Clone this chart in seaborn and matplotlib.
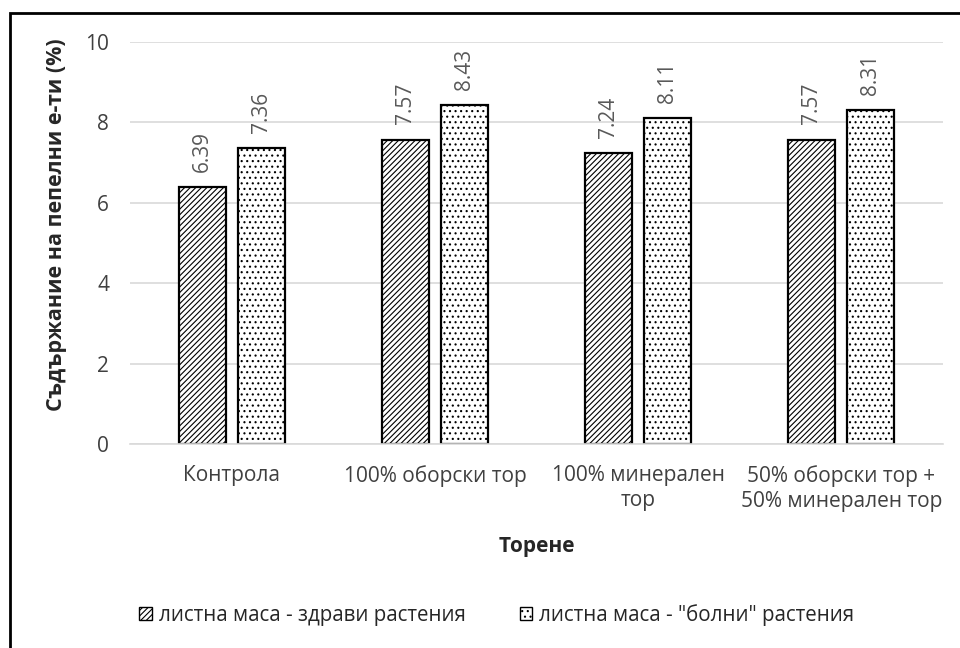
import numpy as np
import pandas as pd
import matplotlib
matplotlib.use("Agg")
import matplotlib.pyplot as plt
import seaborn as sns
from matplotlib.patches import Rectangle, Patch

# data
categories = ["Контрола", "100% оборски тор", "100% минерален\nтор",
              "50% оборски тор +\n50% минерален тор"]
series = ["листна маса - здрави растения", 'листна маса - "болни" растения']
healthy = [6.39, 7.57, 7.24, 7.57]
sick = [7.36, 8.43, 8.11, 8.31]

df = pd.DataFrame({
    "cat": categories * 2,
    "series": [series[0]] * 4 + [series[1]] * 4,
    "val": healthy + sick,
})

sns.set_theme(style="white")
plt.rcParams["font.family"] = ["Open Sans", "DejaVu Sans"]
plt.rcParams["hatch.linewidth"] = 0.8

fig = plt.figure(figsize=(9.6, 6.48), dpi=100)
# plot area: x 130..943 px, y 42..444 px
ax = fig.add_axes([130 / 960, 1 - 444 / 648, 813 / 960, 402 / 648])

sns.barplot(data=df, x="cat", y="val", hue="series", order=categories,
            hue_order=series, palette=["white", "white"], width=0.58,
            gap=0.2, edgecolor="black", linewidth=1.6, ax=ax, legend=False)

hatches = ["//////", "..."]
for cont, h in zip(ax.containers, hatches):
    for bar in cont:
        bar.set_hatch(h)
    ax.bar_label(cont, fmt="%.2f", padding=11, rotation=90,
                 color="#595959", fontsize=15)

ax.set_ylim(0, 10)
ax.set_yticks([0, 2, 4, 6, 8, 10])
ax.yaxis.grid(True, color="#d9d9d9", linewidth=1.2)
ax.set_axisbelow(True)
for s in ["top", "right", "left"]:
    ax.spines[s].set_visible(False)
ax.spines["bottom"].set_color("#d9d9d9")
ax.spines["bottom"].set_linewidth(1.2)
ax.tick_params(axis="both", length=0, labelsize=15, colors="#404040")
ax.tick_params(axis="y", pad=15)
ax.tick_params(axis="x", pad=15)
for t in ax.get_xticklabels():
    t.set_linespacing(1.25)

ax.set_xlabel("Торене", fontsize=15, fontweight="bold")
ax.xaxis.set_label_coords(0.5, -0.228)
ax.set_ylabel("Съдържание на пепелни е-ти (%)", fontsize=15.5,
              fontweight="bold")
ax.yaxis.set_label_coords(-0.077, 0.545)

handles = [Patch(facecolor="white", edgecolor="black", hatch=h, linewidth=1.0)
           for h in hatches]
fig.legend(handles, series, loc="center left",
           bbox_to_anchor=(129 / 960, 1 - 615 / 648),
           ncol=2, frameon=False, fontsize=14.8, borderpad=0,
           handlelength=0.62, handleheight=0.62, columnspacing=2.6,
           handletextpad=0.35)

# outer frame (only top and left visible in the reference crop)
fig.patches.append(Rectangle((10 / 960, -0.1), 1.2, 1 - 13 / 648 + 0.1,
                             transform=fig.transFigure, fill=False,
                             edgecolor="black", linewidth=2, zorder=10))

fig.savefig("out.png", dpi=100)
